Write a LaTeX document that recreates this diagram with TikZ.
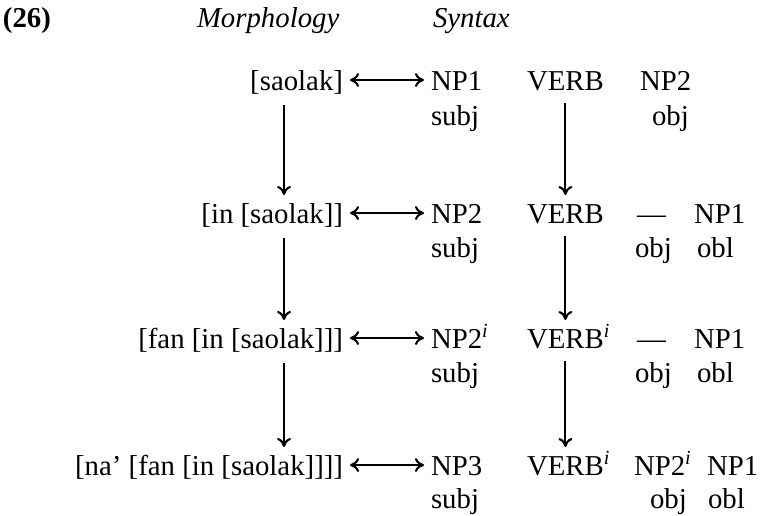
\documentclass[tikz,border=0pt]{standalone}
\usepackage{fontspec}
\setmainfont{Liberation Serif}
\usetikzlibrary{arrows.meta}
\newcommand\dsz{\fontsize{14.4}{17}\selectfont}
\newcommand\supi{\rlap{\textsuperscript{\itshape i}}}
\begin{document}
\begin{tikzpicture}[x=0.5pt,y=-0.5pt,
  lbl/.style={inner sep=0pt,outer sep=0pt,font=\dsz},
  lft/.style={lbl,anchor=base east},
  rgt/.style={lbl,anchor=base west},
  harr/.style={{To[length=4.5pt,width=7pt]}-{To[length=4.5pt,width=7pt]}, line width=1.05pt},
  varr/.style={-{To[length=4.5pt,width=7pt]}, line width=1.05pt}]
\useasboundingbox (0,0) rectangle (771,515);

% header
\node[rgt,font=\dsz\bfseries] (num) at (3,27) {(26)};
\node[rgt,font=\dsz\itshape] (hm) at (197,27) {Morphology};
\node[rgt,font=\dsz\itshape] (hs) at (433,27) {Syntax};

% row 1
\node[lft] (m1) at (343,90) {[saolak]};
\node[rgt] (a1) at (431,90) {NP1};
\node[rgt] (v1) at (527,90) {VERB};
\node[rgt] (c1) at (640,90) {NP2};
\node[rgt] (s1) at (431,125) {subj};
\node[rgt] (o1) at (652,125) {obj};

% row 2
\node[lft] (m2) at (343,223) {[in [saolak]]};
\node[rgt] (a2) at (431,223) {NP2};
\node[rgt] (v2) at (527,223) {VERB};
\node[rgt] (c2) at (637,223) {—};
\node[rgt] (d2) at (694,223) {NP1};
\node[rgt] (s2) at (431,257) {subj};
\node[rgt] (o2) at (635,257) {obj};
\node[rgt] (l2) at (697,257) {obl};

% row 3
\node[lft] (m3) at (343,348) {[fan [in [saolak]]]};
\node[rgt] (a3) at (431,348) {NP2\supi};
\node[rgt] (v3) at (527,348) {VERB\supi};
\node[rgt] (c3) at (637,348) {—};
\node[rgt] (d3) at (694,348) {NP1};
\node[rgt] (s3) at (431,382) {subj};
\node[rgt] (o3) at (635,382) {obj};
\node[rgt] (l3) at (697,382) {obl};

% row 4
\node[lft] (m4) at (343,475) {[na’ [fan [in [saolak]]]]};
\node[rgt] (a4) at (431,475) {NP3};
\node[rgt] (v4) at (527,475) {VERB\supi};
\node[rgt] (c4) at (634,475) {NP2\supi};
\node[rgt] (d4) at (707,475) {NP1};
\node[rgt] (s4) at (431,508) {subj};
\node[rgt] (o4) at (650,508) {obj};
\node[rgt] (l4) at (708,508) {obl};

% horizontal correspondences
\foreach \i in {1,2,3,4}
  \draw[harr] ([shift={(7,-10)}]m\i.base east) -- ([shift={(-7,-10)}]a\i.base west);

% left vertical arrows
\foreach \i/\j in {1/2,2/3,3/4}
  \draw[varr] ([shift={(-59,15)}]m\i.base east) -- ([shift={(-59,-28)}]m\j.base east);

% verb vertical arrows
\foreach \i/\j in {1/2,2/3,3/4}
  \draw[varr] ([yshift=-6.5pt]v\i.base) -- ([yshift=14pt]v\j.base);
\end{tikzpicture}
\end{document}
